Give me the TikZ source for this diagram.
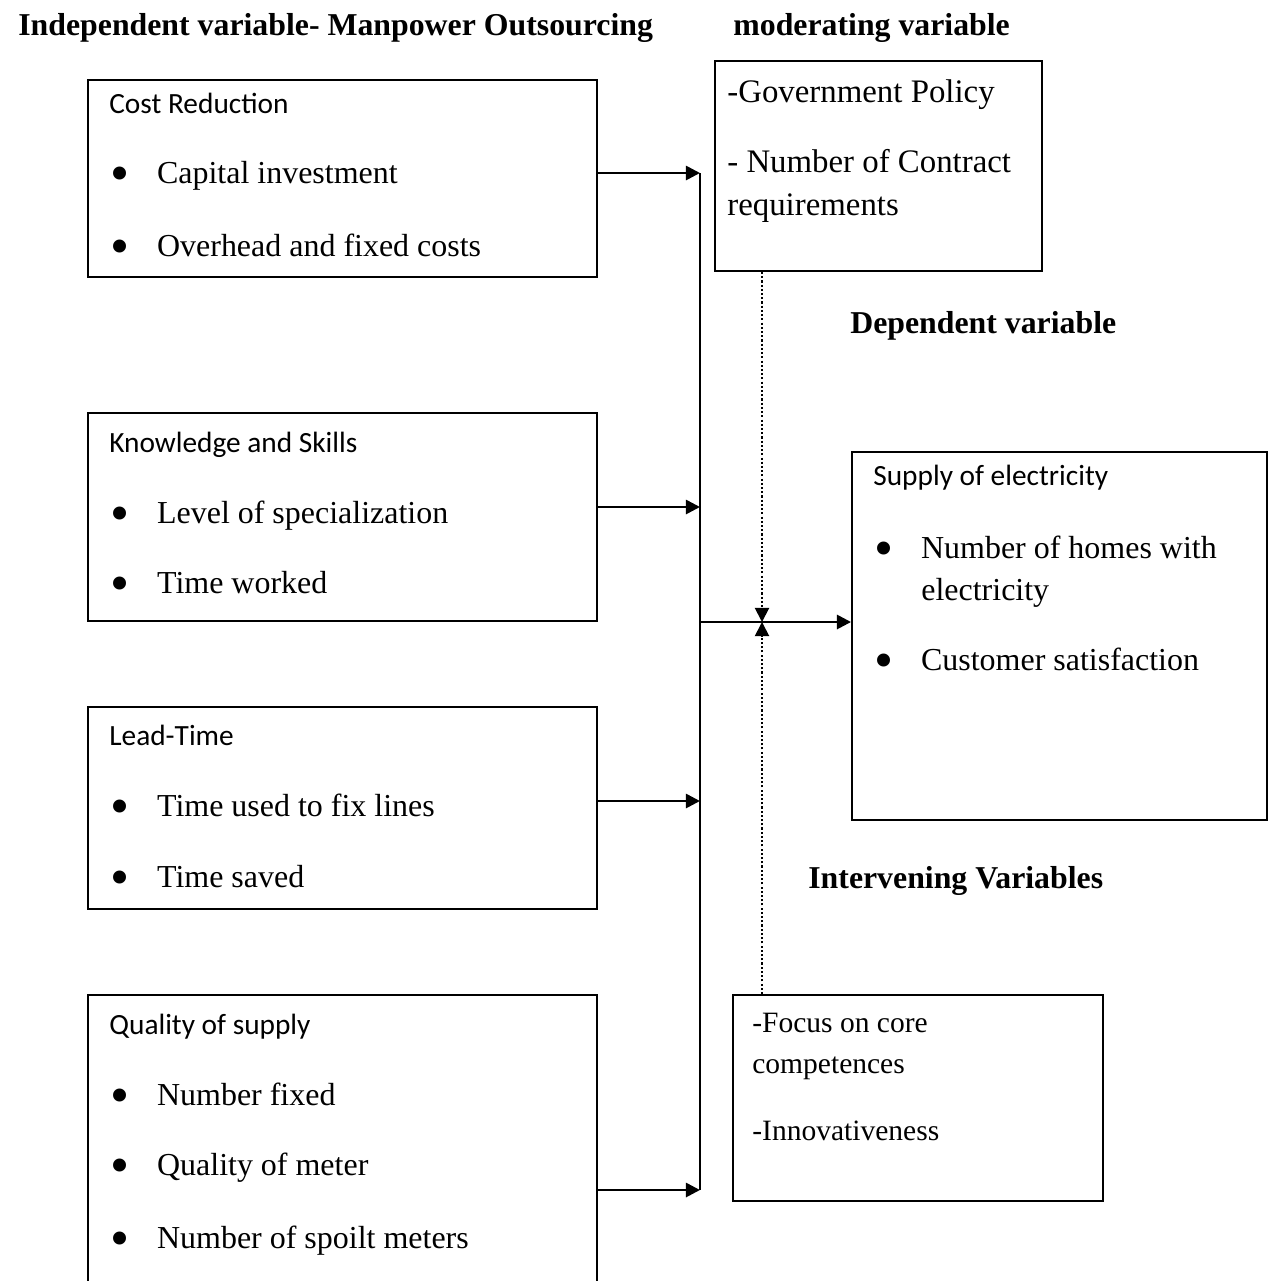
\documentclass[tikz,border=0pt]{standalone}
\usepackage{fontspec}
\setmainfont{Liberation Serif}
\newfontfamily\calibri{Carlito}
\usetikzlibrary{positioning,arrows.meta,fit}
\newcommand{\itm}[1]{\makebox[26.6pt][l]{\raisebox{-0.26em}{\scalebox{1.7}{\textbullet}}}#1}

\begin{document}
\begin{tikzpicture}[
    x=0.02cm, y=-0.02cm,
    box/.style={draw, line width=1.1pt, inner sep=0pt},
    txt/.style={anchor=base west, inner sep=0pt, font=\fontsize{18.2}{21}\selectfont},
    ttl/.style={anchor=base west, inner sep=0pt, font=\calibri\fontsize{16.7}{19}\selectfont},
    hdr/.style={anchor=base west, inner sep=0pt, font=\fontsize{18.1}{21}\selectfont\bfseries},
    arr/.style={-{Triangle[length=8pt, width=8pt]}, line width=1.5pt},
    dot/.style={-{Triangle[length=8pt, width=8pt]}, line width=1.1pt, dash pattern=on 1.2pt off 1.2pt},
]
\useasboundingbox (0,0) rectangle (1275,1281);
\clip (0,0) rectangle (1275,1281);

% === Headings ===
\node[hdr] (h_ind) at (18, 35) {Independent variable- Manpower Outsourcing};
\node[hdr] (h_mod) at (733, 35) {moderating variable};
\node[hdr] (h_dep) at (850, 333) {Dependent variable};
\node[hdr] (h_int) at (808, 888) {Intervening Variables};

% === Independent boxes (left) ===
\node[box, fit={(88,80) (597,277)}] (cost) {};
\node[ttl] (cost_t) at (109, 113) {Cost Reduction};
\node[txt] (cost_a) at (110, 183) {\itm{Capital investment}};
\node[txt] (cost_b) at (110, 256) {\itm{Overhead and fixed costs}};

\node[box, fit={(88,413) (597,621)}] (know) {};
\node[ttl] (know_t) at (109, 452) {Knowledge and Skills};
\node[txt] (know_a) at (110, 523) {\itm{Level of specialization}};
\node[txt] (know_b) at (110, 593) {\itm{Time worked}};

\node[box, fit={(88,707) (597,909)}] (lead) {};
\node[ttl] (lead_t) at (109, 745) {Lead-Time};
\node[txt] (lead_a) at (110, 816) {\itm{Time used to fix lines}};
\node[txt] (lead_b) at (110, 887) {\itm{Time saved}};

\node[box, fit={(88,995) (597,1300)}] (qual) {};
\node[ttl] (qual_t) at (109, 1034) {Quality of supply};
\node[txt] (qual_a) at (110, 1105) {\itm{Number fixed}};
\node[txt] (qual_b) at (110, 1175) {\itm{Quality of meter}};
\node[txt] (qual_c) at (110, 1248) {\itm{Number of spoilt meters}};

% === Moderating box ===
\node[box, fit={(715,61) (1042,271)}] (mod) {};
\node[txt, font=\fontsize{18.7}{21}\selectfont] (mod_a) at (727, 102) {-Government Policy};
\node[txt, font=\fontsize{18.7}{21}\selectfont] (mod_b) at (727, 172) {- Number of Contract};
\node[txt, font=\fontsize{18.7}{21}\selectfont] (mod_c) at (727, 215) {requirements};

% === Dependent box ===
\node[box, fit={(852,452) (1267,820)}] (dep) {};
\node[ttl] (dep_t) at (873, 485) {Supply of electricity};
\node[txt] (dep_a) at (874, 558) {\itm{Number of homes with}};
\node[txt] (dep_b) at (921, 600) {electricity};
\node[txt] (dep_c) at (874, 670) {\itm{Customer satisfaction}};

% === Intervening box ===
\node[box, fit={(733,995) (1103,1201)}] (int) {};
\node[txt, font=\fontsize{16.8}{20}\selectfont] (int_a) at (752, 1032) {-Focus on core};
\node[txt, font=\fontsize{16.8}{20}\selectfont] (int_b) at (752, 1073) {competences};
\node[txt, font=\fontsize{16.8}{20}\selectfont] (int_c) at (752, 1140) {-Innovativeness};

% Bus
\coordinate (b1) at (700, 173);
\coordinate (b2) at (700, 507);
\coordinate (b3) at (700, 801);
\coordinate (b4) at (700, 1190);
\coordinate (j) at (700, 622);
\coordinate (m) at (762, 622);

\draw[line width=1.1pt] (b1) -- (b4);
\draw[arr] (cost.east |- b1) -- (b1);
\draw[arr] (know.east |- b2) -- (b2);
\draw[arr] (lead.east |- b3) -- (b3);
\draw[arr] (qual.east |- b4) -- (b4);
\draw[arr] (j) -- (dep.west |- j);

% Moderating / intervening
\draw[dot] (mod.south -| m) -- (m);
\draw[dot] (int.north -| m) -- (m);

\end{tikzpicture}
\end{document}
